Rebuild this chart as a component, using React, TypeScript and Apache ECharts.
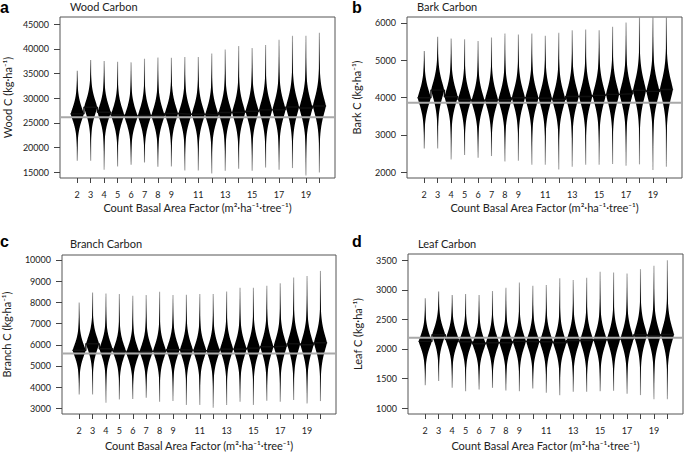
import React, { useEffect, useRef } from 'react';
import * as echarts from 'echarts';

// ---------- data ----------
const categories = [2, 3, 4, 5, 6, 7, 8, 9, 10, 11, 12, 13, 14, 15, 16, 17, 18, 19, 20];
const xLabelValues = [2, 3, 4, 5, 6, 7, 8, 9, 11, 13, 15, 17, 19];

const woodMean = [26800, 28150, 27130, 26590, 26260, 26460, 26460, 26870, 26730, 26730, 26590, 27070, 27130, 27340, 27610, 27670, 28210, 28010, 28410];
const woodMax = [35560, 37720, 37520, 37380, 37250, 37990, 38260, 38190, 38330, 38330, 39070, 39880, 40550, 40150, 40750, 41830, 42640, 42640, 43250];
const woodMin = [17290, 17290, 15470, 16150, 16480, 16950, 16080, 16150, 15340, 15340, 14730, 15270, 15670, 15270, 15940, 15470, 15810, 14330, 14940];
const woodSpread = [2810, 3000, 2975, 2975, 2975, 3025, 3060, 3060, 3125, 3125, 3190, 3250, 3300, 3300, 3350, 3400, 3500, 3500, 3560];
const woodRef = 26120;
const woodTicks = [15000, 20000, 25000, 30000, 35000, 40000, 45000];

const barkMean = [3996, 4200, 4022, 3951, 3906, 3940, 3945, 3996, 3987, 3987, 3951, 4031, 4031, 4058, 4085, 4103, 4192, 4165, 4218];
const barkMax = [5243, 5626, 5581, 5563, 5510, 5608, 5715, 5688, 5715, 5653, 5733, 5804, 5822, 5804, 5893, 6009, 6250, 6300, 6280];
const barkMin = [2641, 2641, 2347, 2463, 2392, 2437, 2294, 2312, 2205, 2205, 2080, 2151, 2205, 2205, 2223, 2178, 2214, 2062, 2151];
const barkSpread = [412, 444, 438, 435, 435, 444, 450, 450, 456, 456, 462, 469, 478, 478, 485, 490, 506, 506, 515];
const barkRef = 3862;
const barkTicks = [2000, 3000, 4000, 5000, 6000];

const branchMean = [5734, 6047, 5813, 5703, 5625, 5688, 5703, 5766, 5750, 5719, 5719, 5797, 5797, 5844, 5906, 5938, 6047, 6000, 6094];
const branchMax = [8000, 8469, 8422, 8391, 8313, 8344, 8500, 8344, 8360, 8391, 8391, 8516, 8688, 8688, 8781, 8906, 9172, 9250, 9484];
const branchMin = [3656, 3656, 3266, 3422, 3438, 3500, 3313, 3344, 3156, 3156, 3031, 3156, 3313, 3156, 3359, 3313, 3391, 3234, 3344];
const branchSpread = [606, 650, 644, 640, 640, 650, 662, 662, 672, 672, 681, 694, 710, 710, 722, 732, 755, 755, 770];
const branchRef = 5594;
const branchTicks = [3000, 4000, 5000, 6000, 7000, 8000, 9000, 10000];

const leafMean = [2127, 2239, 2160, 2121, 2087, 2104, 2104, 2127, 2121, 2121, 2104, 2143, 2143, 2155, 2166, 2172, 2239, 2222, 2244];
const leafMax = [2855, 2973, 2911, 2928, 2911, 2979, 3035, 3124, 3068, 3080, 3197, 3164, 3203, 3304, 3293, 3276, 3349, 3405, 3500];
const leafMin = [1387, 1460, 1342, 1286, 1314, 1342, 1297, 1286, 1331, 1258, 1219, 1275, 1275, 1286, 1292, 1241, 1219, 1151, 1151];
const leafSpread = [222, 238, 232, 232, 232, 238, 241, 241, 245, 245, 250, 255, 259, 259, 262, 268, 276, 276, 281];
const leafRef = 2188;
const leafTicks = [1000, 1500, 2000, 2500, 3000, 3500];

const panelLetters = ['a', 'b', 'c', 'd'];
const panelTitles = ['Wood Carbon', 'Bark Carbon', 'Branch Carbon', 'Leaf Carbon'];
const yNames = ['Wood C (kg·ha⁻¹)', 'Bark C (kg·ha⁻¹)', 'Branch C (kg·ha⁻¹)', 'Leaf C (kg·ha⁻¹)'];
const xName = 'Count Basal Area Factor (m²·ha⁻¹·tree⁻¹)';

// ---------- layout ----------
const X_MIN = 0.72;
const X_MAX = 21.16;
const FONT = 'Lato, "Noto Sans", sans-serif';

const layout = [
  { left: 60, top: 17, width: 275, height: 161, yMin: 13800, yMax: 46450, letterX: 0, letterY: 7, titleX: 70, titleY: 6.5, yGap: 47, xGap: 24 },
  { left: 407, top: 17, width: 275, height: 161, yMin: 1850, yMax: 6155, letterX: 352, letterY: 7, titleX: 417, titleY: 6.5, yGap: 45, xGap: 24 },
  { left: 61, top: 255, width: 275, height: 160, yMin: 2735, yMax: 10235, letterX: 0, letterY: 241, titleX: 70, titleY: 243, yGap: 50, xGap: 26 },
  { left: 408, top: 254, width: 275, height: 161, yMin: 900, yMax: 3605, letterX: 352, letterY: 241, titleX: 418, titleY: 243, yGap: 45, xGap: 26 },
];

const panelData = [
  { mean: woodMean, max: woodMax, min: woodMin, spread: woodSpread, ref: woodRef, ticks: woodTicks },
  { mean: barkMean, max: barkMax, min: barkMin, spread: barkSpread, ref: barkRef, ticks: barkTicks },
  { mean: branchMean, max: branchMax, min: branchMin, spread: branchSpread, ref: branchRef, ticks: branchTicks },
  { mean: leafMean, max: leafMax, min: leafMin, spread: leafSpread, ref: leafRef, ticks: leafTicks },
];

function violinRenderItem(params: any, api: any) {
  const x = api.value(0);
  const center = api.value(1);
  const lo = api.value(2);
  const hi = api.value(3);
  const s = api.value(4);
  const halfW = api.size([0.48, 0])[0];
  const N = 200;
  const right: number[][] = [];
  const left: number[][] = [];
  for (let k = 0; k <= N; k++) {
    const y = lo + ((hi - lo) * k) / N;
    const d = Math.abs(y - center) / s;
    const f = Math.exp(-Math.pow(d, 1.35));
    const hw = halfW * f;
    const p = api.coord([x, y]);
    right.push([p[0] + hw, p[1]]);
    left.push([p[0] - hw, p[1]]);
  }
  const pTop = api.coord([x, hi]);
  const pBot = api.coord([x, lo]);
  const pMid = api.coord([x, center]);
  const span = pBot[1] - pTop[1];
  const midPos = span > 0 ? Math.min(0.95, Math.max(0.05, (pMid[1] - pTop[1]) / span)) : 0.5;
  const grad = new echarts.graphic.LinearGradient(
    pTop[0], pTop[1], pBot[0], pBot[1],
    [
      { offset: 0, color: '#a8a8a8' },
      { offset: midPos * 0.55, color: '#333' },
      { offset: midPos, color: '#000' },
      { offset: midPos + (1 - midPos) * 0.45, color: '#333' },
      { offset: 1, color: '#a8a8a8' },
    ],
    true
  );
  return {
    type: 'group',
    children: [
      {
        type: 'line',
        shape: { x1: pTop[0], y1: pTop[1], x2: pBot[0], y2: pBot[1] },
        style: { stroke: grad, lineWidth: 1.1 },
      },
      {
        type: 'polygon',
        shape: { points: right.concat(left.reverse()) },
        style: { fill: '#000' },
      },
    ],
  };
}

function buildOption() {
  const grid: any[] = [];
  const xAxis: any[] = [];
  const yAxis: any[] = [];
  const series: any[] = [];
  const graphic: any[] = [];

  panelData.forEach((pd, i) => {
    const L = layout[i];
    grid.push({
      left: L.left,
      top: L.top,
      width: L.width,
      height: L.height,
      show: true,
      borderColor: '#555',
      borderWidth: 1,
      backgroundColor: 'transparent',
      containLabel: false,
    });
    xAxis.push({
      gridIndex: i,
      type: 'value',
      min: X_MIN,
      max: X_MAX,
      axisLine: { show: false },
      axisTick: { show: true, length: 5, customValues: categories, lineStyle: { color: '#444', width: 1 } },
      axisLabel: { customValues: xLabelValues, margin: 12, fontSize: 9, color: '#222', fontFamily: FONT, formatter: (v: number) => String(v) },
      splitLine: { show: false },
      name: xName,
      nameLocation: 'middle',
      nameGap: L.xGap,
      nameTextStyle: { fontSize: 11, color: '#222', fontFamily: FONT },
    });
    yAxis.push({
      gridIndex: i,
      type: 'value',
      min: L.yMin,
      max: L.yMax,
      axisLine: { show: false },
      axisTick: { show: true, length: 6, customValues: pd.ticks, lineStyle: { color: '#444', width: 1 } },
      axisLabel: { customValues: pd.ticks, margin: 11, fontSize: 9, color: '#222', fontFamily: FONT, formatter: (v: number) => String(v) },
      splitLine: { show: false },
      name: yNames[i],
      nameLocation: 'middle',
      nameRotate: 90,
      nameGap: L.yGap,
      nameTextStyle: { fontSize: 11, color: '#222', fontFamily: FONT },
    });

    const violinData = categories.map((c, k) => [c, pd.mean[k], pd.min[k], pd.max[k], pd.spread[k]]);
    series.push({
      type: 'custom',
      xAxisIndex: i,
      yAxisIndex: i,
      clip: true,
      silent: true,
      z: 2,
      renderItem: violinRenderItem,
      encode: { x: 0, y: 1 },
      data: violinData,
    });

    const last = categories.length - 1;
    const stepData = categories.map((c, k) => [c - 0.5, pd.mean[k]]);
    stepData.push([categories[last] + 0.5, pd.mean[last]]);
    series.push({
      type: 'line',
      xAxisIndex: i,
      yAxisIndex: i,
      step: 'end',
      symbol: 'none',
      silent: true,
      z: 3,
      lineStyle: { color: '#111', width: 1.4 },
      data: stepData,
    });

    series.push({
      type: 'line',
      xAxisIndex: i,
      yAxisIndex: i,
      symbol: 'none',
      silent: true,
      z: 4,
      lineStyle: { color: '#a9a9a9', width: 2 },
      data: [[X_MIN, pd.ref], [X_MAX, pd.ref]],
    });

    graphic.push({
      type: 'text',
      x: L.letterX,
      y: L.letterY,
      style: {
        text: panelLetters[i],
        fontSize: 16,
        fontWeight: 'bold',
        fontFamily: '"Liberation Sans", Arial, sans-serif',
        fill: '#000',
        textVerticalAlign: 'middle',
        verticalAlign: 'middle',
      },
    });
    graphic.push({
      type: 'text',
      x: L.titleX,
      y: L.titleY,
      style: {
        text: panelTitles[i],
        fontSize: 11,
        fontFamily: FONT,
        fill: '#222',
        textVerticalAlign: 'middle',
        verticalAlign: 'middle',
      },
    });
  });

  return {
    animation: false,
    backgroundColor: '#fff',
    grid,
    xAxis,
    yAxis,
    series,
    graphic,
  };
}

export default function App() {
  const ref = useRef<HTMLDivElement>(null);
  useEffect(() => {
    if (!ref.current) return;
    const chart = echarts.init(ref.current, undefined, { renderer: 'svg' });
    chart.setOption(buildOption() as any);
    return () => chart.dispose();
  }, []);
  return (
    <div
      ref={ref}
      style={{ position: 'absolute', left: 0, top: 0, width: 685, height: 452 }}
    />
  );
}
